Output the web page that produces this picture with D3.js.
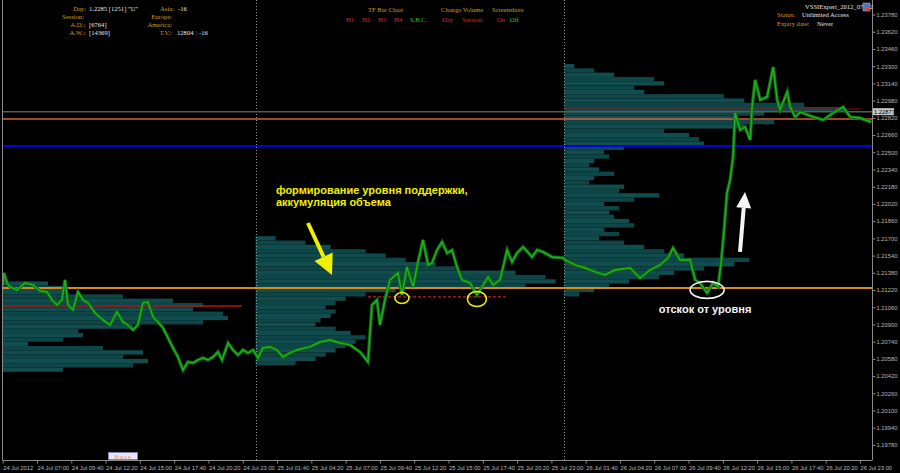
<!DOCTYPE html>
<html><head><meta charset="utf-8">
<script src="https://cdn.jsdelivr.net/npm/d3@7"></script>
<style>html,body{margin:0;padding:0;background:#000;overflow:hidden}svg{display:block}</style>
</head><body>
<script>
// ---------- DATA ----------
// hours since 24 Jul 2012 00:00 (chart time)
const priceHours = [4.36,4.43,4.67,4.90,5.44,6.07,6.69,7.23,7.78,8.17,8.56,8.94,9.18,9.41,9.80,10.19,10.58,10.97,11.51,12.13,12.68,13.22,13.69,14.08,14.47,14.85,15.24,15.63,16.02,16.41,16.80,17.19,17.58,17.96,18.35,18.74,19.13,19.52,19.91,20.30,20.69,21.08,21.39,21.86,22.24,22.63,23.02,23.41,23.80,24.19,24.57,25.12,25.66,26.13,26.67,27.22,27.84,28.23,29.01,29.79,30.56,31.34,32.12,32.74,33.05,33.44,33.67,34.06,34.45,35.07,35.38,35.77,36.25,36.63,37.02,37.41,37.72,38.11,38.50,38.89,39.28,39.66,40.05,40.68,41.21,41.60,42.08,42.47,43.01,43.56,43.94,44.33,44.80,45.50,45.89,46.35,47.05,47.91,48.06,48.84,49.62,50.40,51.17,51.95,53.12,53.90,54.67,55.45,56.07,56.46,57.01,57.79,58.18,58.56,59.11,59.57,59.96,60.20,60.43,60.66,60.90,61.13,61.29,61.68,62.07,62.46,62.61,62.85,63.24,63.78,64.25,64.56,64.79,65.34,65.57,65.96,66.35,67.36,68.14,68.91,69.69,70.24,71.01,71.87];
const priceValues = [1.21267,1.21379,1.21286,1.21249,1.21221,1.21286,1.21267,1.21211,1.21202,1.21128,1.21081,1.21128,1.21314,1.21081,1.21035,1.21202,1.21128,1.21100,1.21007,1.20942,1.20895,1.21016,1.20923,1.20895,1.20849,1.20895,1.21100,1.21109,1.20970,1.20923,1.20868,1.20775,1.20682,1.20598,1.20477,1.20552,1.20542,1.20570,1.20589,1.20570,1.20598,1.20645,1.20570,1.20728,1.20663,1.20617,1.20663,1.20635,1.20663,1.20589,1.20682,1.20691,1.20663,1.20598,1.20635,1.20663,1.20682,1.20691,1.20737,1.20756,1.20728,1.20710,1.20645,1.20552,1.21081,1.21128,1.20895,1.21128,1.21314,1.21379,1.21174,1.21434,1.21249,1.21481,1.21685,1.21453,1.21471,1.21592,1.21667,1.21564,1.21592,1.21434,1.21314,1.21286,1.21174,1.21249,1.21341,1.21267,1.21314,1.21592,1.21481,1.21564,1.21620,1.21527,1.21592,1.21574,1.21527,1.21518,1.21499,1.21453,1.21425,1.21388,1.21360,1.21406,1.21425,1.21332,1.21406,1.21453,1.21518,1.21611,1.21499,1.21499,1.21314,1.21286,1.21193,1.21286,1.21249,1.21471,1.21778,1.22122,1.22243,1.22456,1.22865,1.22707,1.22735,1.22614,1.22921,1.23172,1.22986,1.23014,1.23292,1.22986,1.22893,1.23060,1.22921,1.22828,1.22874,1.22828,1.22800,1.22865,1.22921,1.22828,1.22818,1.22781];

const yTicks = [1.23780,1.23620,1.23460,1.23300,1.23140,1.22980,1.22820,1.22660,1.22500,1.22340,1.22180,1.22020,1.21860,1.21700,1.21540,1.21380,1.21220,1.21060,1.20900,1.20740,1.20580,1.20420,1.20260,1.20100,1.19940,1.19780];
const xTickTimes = ["2012-07-24T04:20:00Z","2012-07-24T07:00:00Z","2012-07-24T09:40:00Z","2012-07-24T12:20:00Z","2012-07-24T15:00:00Z","2012-07-24T17:40:00Z","2012-07-24T20:20:00Z","2012-07-24T23:00:00Z","2012-07-25T01:40:00Z","2012-07-25T04:20:00Z","2012-07-25T07:00:00Z","2012-07-25T09:40:00Z","2012-07-25T12:20:00Z","2012-07-25T15:00:00Z","2012-07-25T17:40:00Z","2012-07-25T20:20:00Z","2012-07-25T23:00:00Z","2012-07-26T01:40:00Z","2012-07-26T04:20:00Z","2012-07-26T07:00:00Z","2012-07-26T09:40:00Z","2012-07-26T12:20:00Z","2012-07-26T15:00:00Z","2012-07-26T17:40:00Z","2012-07-26T20:20:00Z","2012-07-26T23:00:00Z"];
const xTickLabels = ["24 Jul 2012","24 Jul 07:00","24 Jul 09:40","24 Jul 12:20","24 Jul 15:00","24 Jul 17:40","24 Jul 20:20","24 Jul 23:00","25 Jul 01:40","25 Jul 04:20","25 Jul 07:00","25 Jul 09:40","25 Jul 12:20","25 Jul 15:00","25 Jul 17:40","25 Jul 20:20","25 Jul 23:00","26 Jul 01:40","26 Jul 04:20","26 Jul 07:00","26 Jul 09:40","26 Jul 12:20","26 Jul 15:00","26 Jul 17:40","26 Jul 20:20","26 Jul 23:00"];

// daily volume profiles: start of day, top price level, bin size, volumes per bin (top -> down)
const profileStarts = ["2012-07-24T00:00:00Z","2012-07-25T00:00:00Z","2012-07-26T00:00:00Z"];
const profileTops = [1.2130, 1.2172, 1.2332];
const profileBin = 0.0004;
const profile24 = [45,65,60,120,170,200,190,220,225,200,130,75,80,60,25,100,140,120,145,130,60];
const profile25 = [20,50,75,110,130,150,180,200,260,290,300,270,140,110,90,80,70,80,75,65,60,80,95,110,100,90,80,70,60,40];
const profile26 = [10,30,50,90,100,70,80,160,180,240,280,200,170,210,180,100,125,135,140,60,40,45,30,25,35,50,30,25,60,55,95,70,40,55,45,50,65,70,40,55,35,60,80,100,120,185,170,140,110,95,65,45,30,15];

// levels
const bidPrice = 1.22877;
const levelSalmon = 1.22809;
const levelBlue = 1.22558;
const levelOrange = 1.21239;
const redLeft = {price:1.21072, fromH:0, toH:22.94};
const redRight = {price:1.22902, fromH:48.0, toH:71.1};
const redDashed = {price:1.21156, fromH:32.74, toH:43.63};
const daySeparators = ["2012-07-25T00:00:00Z","2012-07-26T00:00:00Z"];
// annotations anchored in (hours, price)
const yellowCircles = [{h:35.38, p:1.21146, rx:7, ry:5.5},{h:41.21, p:1.21137, rx:9.5, ry:7.5}];
const whiteEllipse = {h:59.11, p:1.21221, rx:17, ry:8.5};
const yellowArrow = {h1:28.07, p1:1.21843, h2:29.94, p2:1.21360};
const whiteArrow = {h1:61.67, p1:1.21574, h2:62.06, p2:1.22131};
const yellowText = {h:25.58, p:1.22112, lines:["формирование уровня поддержки,","аккумуляция объема"]};
const whiteText = {h:58.95, p:1.21044, text:"отскок от уровня"};

// ---------- CHART ----------
const W=900,H=473, L=2.5, R=872, T=0, B=460;
const BASE = Date.UTC(2012,6,24,0,0);
const hDate = h => new Date(BASE + h*3600000);
const x = d3.scaleUtc().domain([new Date(xTickTimes[0]), new Date(xTickTimes[xTickTimes.length-1])]).range([2.7, 860]);
const y = d3.scaleLinear().domain([yTicks[yTicks.length-1], yTicks[0]]).range([445, 14.5]);
const vol = d3.scaleLinear().domain([0,300]).range([0,300]);

const svg = d3.select("body").append("svg").attr("width",W).attr("height",H);
svg.append("rect").attr("width",W).attr("height",H).attr("fill","#000");
svg.append("defs").append("clipPath").attr("id","plot").append("rect").attr("x",L).attr("y",T).attr("width",R-L).attr("height",B-T);
const g = svg.append("g").attr("clip-path","url(#plot)");

// profiles
const profiles=[profile24,profile25,profile26];
profiles.forEach((pv,k)=>{
  const x0 = Math.max(x(new Date(profileStarts[k])), L+0.5);
  g.append("g").selectAll("rect").data(pv).join("rect")
    .attr("x",x0)
    .attr("y",(v,i)=>y(profileTops[k]-i*profileBin))
    .attr("height",(v,i)=>y(profileTops[k]-(i+1)*profileBin)-y(profileTops[k]-i*profileBin))
    .attr("width",v=>vol(v))
    .attr("fill",(v,i)=> i%2? "#0e4547" : "#114c4e");
});

// day separators
g.selectAll("line.sep").data(daySeparators).join("line")
  .attr("x1",d=>Math.round(x(new Date(d)))+0.5).attr("x2",d=>Math.round(x(new Date(d)))+0.5)
  .attr("y1",T).attr("y2",B).attr("stroke","#9a9a9a").attr("stroke-width",1).attr("stroke-dasharray","1,2");

// horizontal levels
function hline(p,color,w,x1=L,x2=R,dash=null){
  const l=g.append("line").attr("x1",x1).attr("x2",x2).attr("y1",y(p)).attr("y2",y(p))
   .attr("stroke",color).attr("stroke-width",w);
  if(dash) l.attr("stroke-dasharray",dash);
}
hline(bidPrice,"#5a5a5a",1.5);
hline(levelSalmon,"#d2603f",1.3);
hline(levelBlue,"#0000e0",2);
hline(levelOrange,"#d98a10",2);
hline(redLeft.price,"#b01515",1.5,L,x(hDate(redLeft.toH)));
hline(redRight.price,"#8a1010",1.2,x(hDate(redRight.fromH)),x(hDate(redRight.toH)));
hline(redDashed.price,"#d01818",1.2,x(hDate(redDashed.fromH)),x(hDate(redDashed.toH)),"3,2");

// price line
const line = d3.line().x((d,i)=>x(hDate(priceHours[i]))).y(d=>y(d));
g.append("path").datum(priceValues).attr("d",line).attr("fill","none").attr("stroke","#0c6e0c").attr("stroke-width",3.4).attr("stroke-linejoin","miter");
g.append("path").datum(priceValues).attr("d",line).attr("fill","none").attr("stroke","#22b022").attr("stroke-width",1.4).attr("stroke-linejoin","miter");

// annotations
g.selectAll("ellipse.yc").data(yellowCircles).join("ellipse")
  .attr("cx",d=>x(hDate(d.h))).attr("cy",d=>y(d.p)).attr("rx",d=>d.rx).attr("ry",d=>d.ry)
  .attr("fill","none").attr("stroke","#f0f000").attr("stroke-width",1.6);
g.append("ellipse").attr("cx",x(hDate(whiteEllipse.h))).attr("cy",y(whiteEllipse.p)).attr("rx",whiteEllipse.rx).attr("ry",whiteEllipse.ry)
  .attr("fill","none").attr("stroke","#f4f4f4").attr("stroke-width",1.6);

function arrow(a,color,shaftW,headW,headL){
  const x1=x(hDate(a.h1)),y1=y(a.p1),x2=x(hDate(a.h2)),y2=y(a.p2);
  const dx=x2-x1,dy=y2-y1,len=Math.hypot(dx,dy),ux=dx/len,uy=dy/len,px=-uy,py=ux;
  const bx=x2-ux*headL,by=y2-uy*headL;
  g.append("line").attr("x1",x1).attr("y1",y1).attr("x2",bx).attr("y2",by).attr("stroke",color).attr("stroke-width",shaftW);
  g.append("path").attr("d",`M${x2},${y2}L${bx+px*headW/2},${by+py*headW/2}L${bx-px*headW/2},${by-py*headW/2}Z`).attr("fill",color);
}
arrow(yellowArrow,"#f0f000",4,20,20);
arrow(whiteArrow,"#f4f4f4",4,15,16);

const yt = g.append("text").attr("x",x(hDate(yellowText.h))).attr("y",y(yellowText.p))
  .attr("fill","#f0f000").attr("font-family","Liberation Sans, Arial, sans-serif").attr("font-weight","bold").attr("font-size",11);
yellowText.lines.forEach((s,i)=>yt.append("tspan").attr("x",x(hDate(yellowText.h))).attr("dy",i?12:0).text(s));
g.append("text").attr("x",x(hDate(whiteText.h))).attr("y",y(whiteText.p)).attr("dy","0.35em").attr("text-anchor","middle")
  .attr("fill","#f4f4f4").attr("font-family","Liberation Sans, Arial, sans-serif").attr("font-weight","bold").attr("font-size",11).text(whiteText.text);

// frame & axes
const axisCol="#b8b8b8";
svg.append("line").attr("x1",L).attr("x2",L).attr("y1",T).attr("y2",B).attr("stroke","#8a8a8a");
svg.append("line").attr("x1",R+0.5).attr("x2",R+0.5).attr("y1",T).attr("y2",B).attr("stroke","#8a8a8a");
svg.append("line").attr("x1",L).attr("x2",R+0.5).attr("y1",B+0.5).attr("y2",B+0.5).attr("stroke","#8a8a8a");

const yAxis = d3.axisRight(y).tickValues(yTicks).tickSize(3).tickPadding(1).tickFormat(d3.format(".5f"));
const ya = svg.append("g").attr("transform",`translate(${R+0.5},0)`).call(yAxis);
ya.select(".domain").remove();
ya.selectAll("line").attr("stroke","#8a8a8a");
ya.selectAll("text").attr("fill",axisCol).attr("font-family","Liberation Sans, Arial, sans-serif").attr("font-size",5.8);

const xAxis = d3.axisBottom(x).tickValues(xTickTimes.map(d=>new Date(d))).tickSize(3).tickFormat((d,i)=>xTickLabels[i]);
const xa = svg.append("g").attr("transform",`translate(0,${B+0.5})`).call(xAxis);
xa.select(".domain").remove();
xa.selectAll("line").attr("stroke","#8a8a8a");
xa.selectAll("text").attr("fill",axisCol).attr("font-family","Liberation Sans, Arial, sans-serif").attr("font-size",5.8)
  .attr("text-anchor","start").attr("y",5);

// bid price label
svg.append("rect").attr("x",R+1).attr("y",y(bidPrice)-3.5).attr("width",21).attr("height",7).attr("fill","#c8c8c8");
svg.append("text").attr("x",R+2).attr("y",y(bidPrice)).attr("dy","0.35em").attr("fill","#000").attr("font-family","Liberation Sans, Arial, sans-serif").attr("font-size",5.8).text(d3.format(".5f")(bidPrice));

// info panels
const serif="Liberation Serif, Times New Roman, serif";
const gold="#d29a2a", wh="#e6e6e6", red="#e02020", grn="#30c030";
function txt(xp,yp,s,c,anchor="start"){svg.append("text").attr("x",xp).attr("y",yp).attr("fill",c).attr("font-family",serif).attr("font-size",6.6).attr("text-anchor",anchor).text(s);}
txt(86,11,"Day:",gold,"end"); txt(89,11,"1.2285  [1251]   \"U\"",wh);
txt(174,11,"Asia:",gold,"end"); txt(178,11,"-16",wh);
txt(84,19,"Session:",gold,"end"); txt(172,19,"Europe:",gold,"end");
txt(85,27,"A.D.:",gold,"end"); txt(89,27,"[6764]",wh); txt(172,27,"America:",gold,"end");
txt(85,35,"A.W.:",gold,"end"); txt(89,35,"[14369]",wh); txt(172,35,"T.V.:",gold,"end"); txt(177,35,"12804",wh); txt(196,35,"|",'#6a8ad0'); txt(199,35,"-16",wh);

txt(368,12,"TF Bar Chart",gold); txt(441,12,"Change Volume",gold); txt(492,12,"Screenshots",gold);
txt(346,22,"H1",red); txt(362,22,"H2",red); txt(378,22,"H3",red); txt(394,22,"H4",red); txt(410,22,"S.B.C.",grn);
txt(442,22,"Day",red); txt(462,22,"Session",red); txt(497,22,"On",red); txt(510,22,"Off",grn);

txt(805,9,"VSSIExpert_2012_07_02",wh);
txt(777,17,"Status:",gold); txt(802,17,"Unlimited Access",wh);
txt(777,26,"Expiry date:",gold); txt(817,26,"Never",wh);
svg.append("rect").attr("x",863).attr("y",3).attr("width",7).attr("height",8).attr("fill","#4a78c8").attr("stroke","#c0c0c0").attr("stroke-width",0.5);
svg.append("circle").attr("cx",868).attr("cy",9).attr("r",2.2).attr("fill","#e04020");

// Mass tab
svg.append("rect").attr("x",108.5).attr("y",452.5).attr("width",29).attr("height",7).attr("fill","#e6e6f4").attr("stroke","#8888cc").attr("stroke-width",0.8);
svg.append("text").attr("x",123).attr("y",458.5).attr("text-anchor","middle").attr("fill","#e89060").attr("font-family","Liberation Sans, Arial, sans-serif").attr("font-size",5.5).attr("letter-spacing",1).text("Mass");
</script>
</body></html>
